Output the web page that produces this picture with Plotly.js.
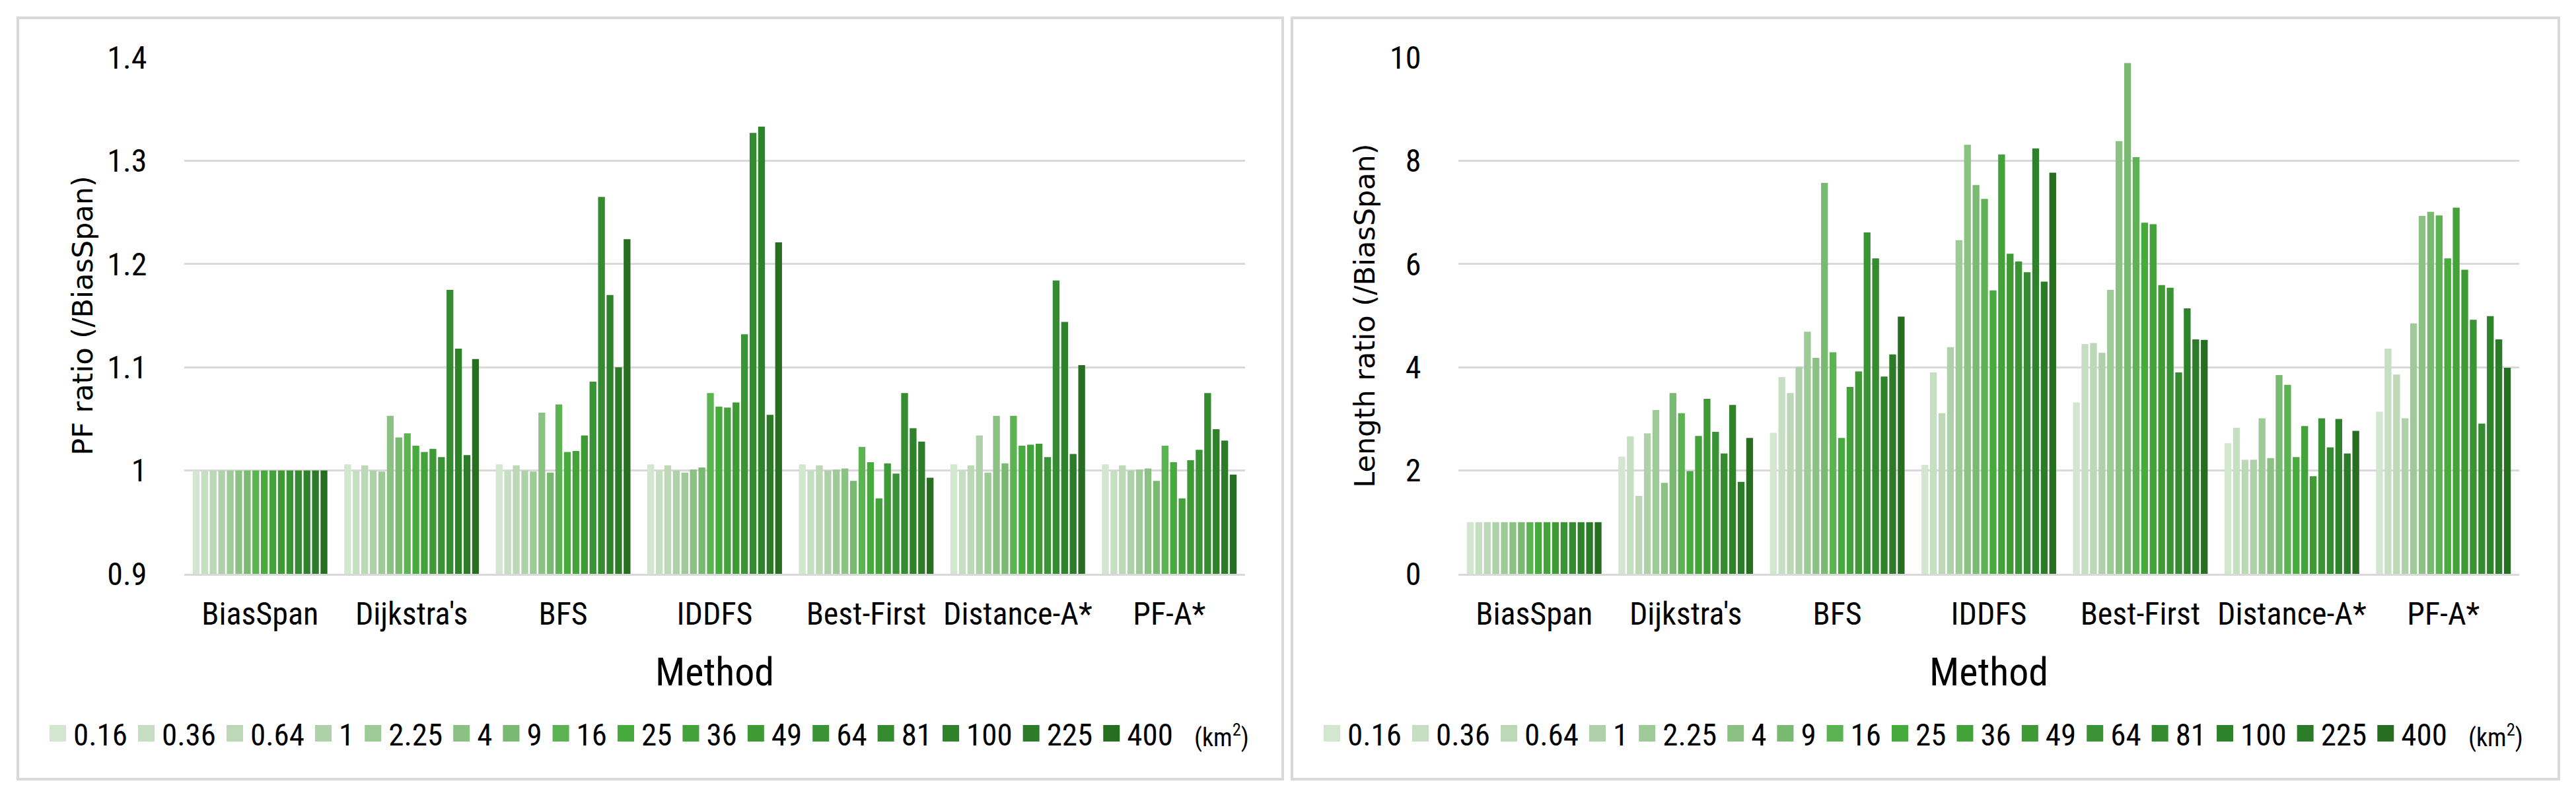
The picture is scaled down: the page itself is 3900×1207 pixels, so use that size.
<!DOCTYPE html>
<html>
<head>
<meta charset="utf-8">
<script src="https://cdn.plot.ly/plotly-3.0.1.min.js"></script>
<style>
  html, body { margin: 0; padding: 0; background: #fff; }
  #chart { width: 3900px; height: 1207px; }
</style>
</head>
<body>
<div id="chart"></div>
<script>
// categories and series
const methods = ["BiasSpan", "Dijkstra's", "BFS", "IDDFS", "Best-First", "Distance-A*", "PF-A*"];
const areas = ["0.16", "0.36", "0.64", "1", "2.25", "4", "9", "16", "25", "36", "49", "64", "81", "100", "225", "400"];
const colors = ["#d3e6d0", "#c6dfc3", "#bcd8b7", "#afd1aa", "#9dca97", "#8bc284", "#79b971", "#5bb352",
                "#46aa3c", "#43a239", "#3f9935", "#3a9334", "#358b30", "#2e832a", "#2c7b28", "#276e21"];

// PF ratio (/BiasSpan), one value per area, in area order
const pfBiasSpan  = [1, 1, 1, 1, 1, 1, 1, 1, 1, 1, 1, 1, 1, 1, 1, 1];
const pfDijkstra  = [1.006, 1.000, 1.005, 1.000, 0.999, 1.053, 1.032, 1.036, 1.024, 1.018, 1.021, 1.013, 1.175, 1.118, 1.015, 1.108];
const pfBFS       = [1.006, 1.000, 1.005, 1.000, 0.999, 1.056, 0.998, 1.064, 1.018, 1.019, 1.034, 1.086, 1.265, 1.170, 1.100, 1.224];
const pfIDDFS     = [1.006, 1.000, 1.005, 1.000, 0.998, 1.001, 1.003, 1.075, 1.062, 1.061, 1.066, 1.132, 1.327, 1.333, 1.054, 1.221];
const pfBestFirst = [1.006, 1.000, 1.005, 1.000, 1.001, 1.002, 0.990, 1.023, 1.008, 0.973, 1.007, 0.997, 1.075, 1.041, 1.028, 0.993];
const pfDistanceA = [1.006, 1.000, 1.005, 1.034, 0.998, 1.053, 1.007, 1.053, 1.024, 1.025, 1.026, 1.013, 1.184, 1.144, 1.016, 1.102];
const pfPFA       = [1.006, 1.000, 1.005, 1.000, 1.001, 1.002, 0.990, 1.024, 1.008, 0.973, 1.010, 1.020, 1.075, 1.040, 1.029, 0.996];

// Length ratio (/BiasSpan)
const lenBiasSpan  = [1, 1, 1, 1, 1, 1, 1, 1, 1, 1, 1, 1, 1, 1, 1, 1];
const lenDijkstra  = [2.27, 2.66, 1.51, 2.72, 3.17, 1.76, 3.50, 3.11, 1.99, 2.67, 3.39, 2.75, 2.33, 3.27, 1.78, 2.63];
const lenBFS       = [2.73, 3.81, 3.50, 4.01, 4.69, 4.18, 7.57, 4.29, 2.63, 3.62, 3.92, 6.61, 6.11, 3.82, 4.25, 4.98];
const lenIDDFS     = [2.11, 3.90, 3.11, 4.39, 6.46, 8.31, 7.53, 7.26, 5.49, 8.12, 6.20, 6.05, 5.84, 8.24, 5.66, 7.77];
const lenBestFirst = [3.32, 4.45, 4.47, 4.28, 5.50, 8.38, 9.89, 8.07, 6.80, 6.77, 5.59, 5.54, 3.90, 5.14, 4.54, 4.53];
const lenDistanceA = [2.53, 2.83, 2.21, 2.21, 3.01, 2.24, 3.85, 3.66, 2.26, 2.86, 1.89, 3.01, 2.45, 3.00, 2.33, 2.77];
const lenPFA       = [3.14, 4.36, 3.86, 3.01, 4.85, 6.93, 7.01, 6.94, 6.11, 7.09, 5.89, 4.92, 2.91, 4.99, 4.54, 3.99];

const pfRows  = [pfBiasSpan, pfDijkstra, pfBFS, pfIDDFS, pfBestFirst, pfDistanceA, pfPFA];
const lenRows = [lenBiasSpan, lenDijkstra, lenBFS, lenIDDFS, lenBestFirst, lenDistanceA, lenPFA];

const W = 3900, H = 1207;
const px = v => v / W;
const py = v => (H - v) / H;

const narrow = "'Liberation Sans Narrow', 'Arial Narrow', 'Roboto Condensed', 'Open Sans', sans-serif";
const wide = "'DejaVu Sans', Verdana, sans-serif";

var data = [];
areas.forEach((a, i) => {
    data.push({
        type: 'bar', name: a, x: methods, y: pfRows.map(r => r[i]),
        xaxis: 'x', yaxis: 'y', legend: 'legend',
        marker: { color: colors[i], line: { width: 0 } }
    });
});
areas.forEach((a, i) => {
    data.push({
        type: 'bar', name: a, x: methods, y: lenRows.map(r => r[i]),
        xaxis: 'x2', yaxis: 'y2', legend: 'legend2',
        marker: { color: colors[i], line: { width: 0 } }
    });
});

function xAxis(domain, anchor) {
    return {
        domain: domain, anchor: anchor,
        showgrid: false, showline: true, linecolor: '#d9d9d9', linewidth: 3,
        ticks: 'outside', ticklen: 16, tickcolor: 'rgba(0,0,0,0)',
        tickfont: { family: narrow, size: 48, color: '#000' },
        title: { text: 'Method', standoff: 40, font: { family: narrow, size: 60, color: '#000' } },
        fixedrange: true
    };
}
function yAxis(domain, anchor, range, dtick, title) {
    return {
        domain: domain, anchor: anchor, range: range, dtick: dtick, tick0: range[0],
        showgrid: true, gridcolor: '#d9d9d9', gridwidth: 3, zeroline: false, showline: false,
        ticks: 'outside', ticklen: 46, tickcolor: 'rgba(0,0,0,0)',
        tickfont: { family: narrow, size: 48, color: '#000' },
        title: { text: title, standoff: 8, font: { family: wide, size: 43, color: '#000' } },
        fixedrange: true
    };
}

const yDom = [py(869), py(87)];

function legendAt(left) {
    return {
        orientation: 'h', x: px(left), xanchor: 'left', y: py(1111), yanchor: 'middle',
        font: { family: narrow, size: 47, color: '#000' }, itemwidth: 37, traceorder: 'normal'
    };
}

var layout = {
    width: W, height: H,
    margin: { l: 0, r: 0, t: 0, b: 0 },
    paper_bgcolor: '#fff', plot_bgcolor: '#fff',
    barmode: 'group', bargap: 0.1, bargroupgap: 0.2,
    xaxis: xAxis([px(279), px(1885)], 'y'),
    yaxis: yAxis(yDom, 'x', [0.9, 1.4], 0.1, 'PF ratio (/BiasSpan)'),
    xaxis2: xAxis([px(2208), px(3814)], 'y2'),
    yaxis2: yAxis(yDom, 'x2', [0, 10], 2, 'Length ratio (/BiasSpan)'),
    legend: legendAt(64),
    legend2: legendAt(1993),
    shapes: [
        { type: 'rect', xref: 'paper', yref: 'paper', x0: px(27), x1: px(1942), y0: py(1180), y1: py(27),
          line: { color: '#d9d9d9', width: 4 }, layer: 'below' },
        { type: 'rect', xref: 'paper', yref: 'paper', x0: px(1956), x1: px(3874), y0: py(1180), y1: py(27),
          line: { color: '#d9d9d9', width: 4 }, layer: 'below' }
    ],
    annotations: [
        { xref: 'paper', yref: 'paper', x: px(1806), y: py(1114), xanchor: 'left', yanchor: 'middle',
          text: '(km<sup>2</sup>)', showarrow: false, font: { family: narrow, size: 38, color: '#000' } },
        { xref: 'paper', yref: 'paper', x: px(3735), y: py(1114), xanchor: 'left', yanchor: 'middle',
          text: '(km<sup>2</sup>)', showarrow: false, font: { family: narrow, size: 38, color: '#000' } }
    ]
};

Plotly.newPlot('chart', data, layout, { staticPlot: true }).then(gd => {
    // bigger legend squares, like the reference swatches (keeps the existing translate)
    gd.querySelectorAll('.legendpoints path').forEach(p => {
        p.setAttribute('d', 'M12.5,12.5H-12.5V-12.5H12.5Z');
    });
});
</script>
</body>
</html>
